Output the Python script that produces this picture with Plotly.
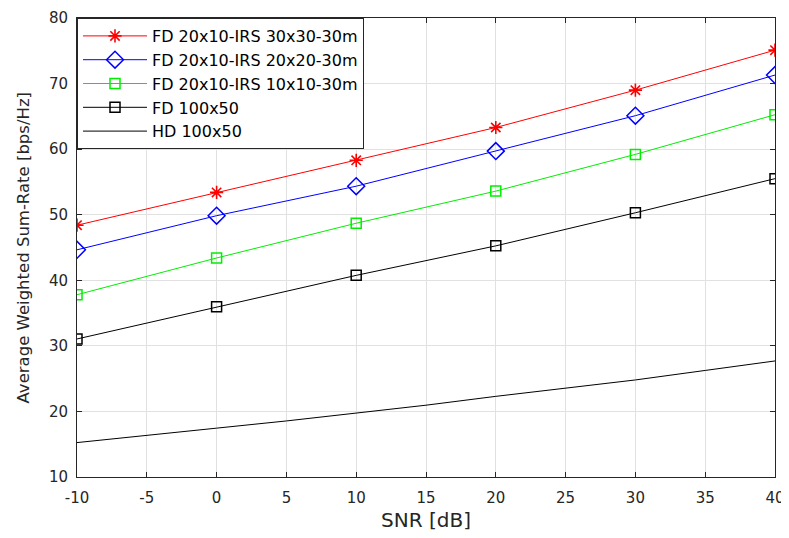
import plotly.graph_objects as go

snr = [-10, 0, 10, 20, 30, 40]
irs30 = [48.4, 53.4, 58.3, 63.3, 69.0, 75.1]
irs20 = [44.65, 49.85, 54.35, 59.7, 65.1, 71.3]
irs10 = [37.8, 43.4, 48.7, 53.6, 59.2, 65.25]
fd100 = [31.05, 35.95, 40.75, 45.25, 50.3, 55.5]
hd_snr = [-10, -5, 0, 5, 10, 15, 20, 25, 30, 35, 40]
hd100 = [15.25, 16.3, 17.45, 18.55, 19.75, 20.95, 22.3, 23.55, 24.8, 26.25, 27.7]

names = ["FD 20x10-IRS 30x30-30m", "FD 20x10-IRS 20x20-30m", "FD 20x10-IRS 10x10-30m",
         "FD 100x50", "HD 100x50"]
xticks = [-10, -5, 0, 5, 10, 15, 20, 25, 30, 35, 40]
yticks = [10, 20, 30, 40, 50, 60, 70, 80]
x_title = "SNR [dB]"
y_title = "Average Weighted Sum-Rate [bps/Hz]"

FONT = "DejaVu Sans"
TXT = "#262626"

fig = go.Figure()
fig.add_trace(go.Scatter(x=snr, y=irs30, name=names[0], mode="lines+markers",
                         line=dict(color="#ff0000", width=1),
                         marker=dict(symbol="asterisk-open", size=11, line=dict(color="#ff0000", width=1.6))))
fig.add_trace(go.Scatter(x=snr, y=irs20, name=names[1], mode="lines+markers",
                         line=dict(color="#0000ff", width=1),
                         marker=dict(symbol="diamond-open", size=13, color="#0000ff", line=dict(color="#0000ff", width=1.5))))
fig.add_trace(go.Scatter(x=snr, y=irs10, name=names[2], mode="lines+markers",
                         line=dict(color="#00ee00", width=1),
                         marker=dict(symbol="square-open", size=10, color="#00ee00", line=dict(color="#00ee00", width=1.5))))
fig.add_trace(go.Scatter(x=snr, y=fd100, name=names[3], mode="lines+markers",
                         line=dict(color="#000000", width=1),
                         marker=dict(symbol="square-open", size=10, color="#000000", line=dict(color="#000000", width=1.5))))
fig.add_trace(go.Scatter(x=hd_snr, y=hd100, name=names[4], mode="lines",
                         line=dict(color="#000000", width=1)))

axis_common = dict(showline=True, linecolor=TXT, linewidth=1, mirror="ticks",
                   ticks="inside", ticklen=5, tickcolor=TXT, automargin=False,
                   ticklabeloverflow="allow",
                   showgrid=True, gridcolor="#e1e1e1", gridwidth=1, zeroline=False,
                   tickfont=dict(family=FONT, size=15, color=TXT))

# page body has an 8px margin, so the figure is offset by 8px
fig.update_layout(
    width=781, height=530,
    margin=dict(l=69, r=14, t=10, b=61),
    paper_bgcolor="white", plot_bgcolor="white",
    font=dict(family=FONT, color=TXT),
    xaxis=dict(range=[-10, 40], tickvals=xticks, ticktext=[str(v) for v in xticks],
               ticklabelstandoff=7,
               title=dict(text=x_title, font=dict(family=FONT, size=20, color=TXT), standoff=6),
               **axis_common),
    yaxis=dict(range=[10, 80], tickvals=yticks, ticktext=[str(v) for v in yticks],
               ticklabelstandoff=5,
               **axis_common),
    legend=dict(x=0, y=1, xanchor="left", yanchor="top", bgcolor="white",
                bordercolor=TXT, borderwidth=1, itemwidth=64,
                font=dict(family=FONT, size=16, color="#000000"),
                tracegroupgap=0),
    showlegend=True,
)
fig.add_annotation(text=y_title, xref="paper", yref="paper", x=-0.076, y=0.5,
                   xanchor="center", yanchor="middle", textangle=-90, showarrow=False,
                   font=dict(family=FONT, size=16.5, color=TXT))

fig.write_html("out.html")
